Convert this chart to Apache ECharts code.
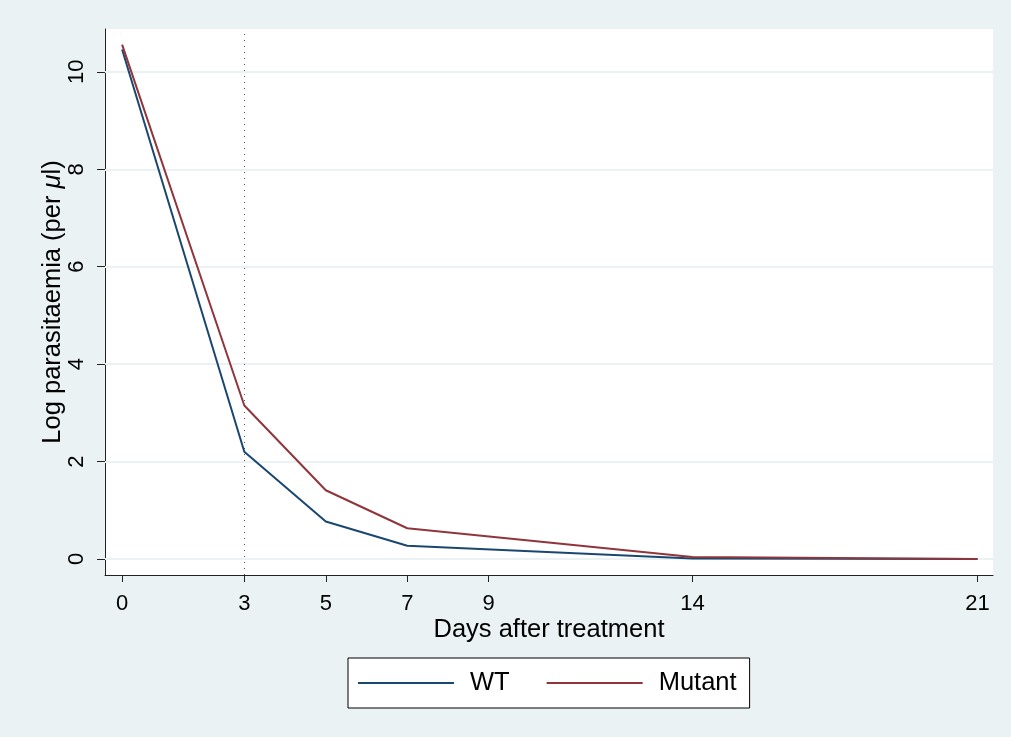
<!DOCTYPE html>
<html>
<head>
<meta charset="utf-8">
<script src="https://cdn.jsdelivr.net/npm/echarts@6/dist/echarts.min.js"></script>
<style>
  html, body { margin: 0; padding: 0; background: #EAF2F3; }
  #chart { width: 1011px; height: 737px; }
</style>
</head>
<body>
<div id="chart"></div>
<script>
// Days after treatment at which parasitaemia was measured
const days = [0, 3, 5, 7, 14, 21];
// Mean log parasitaemia per µl
const wtValues = [10.46, 2.20, 0.77, 0.27, 0.01, 0.0];
const mutantValues = [10.56, 3.15, 1.41, 0.63, 0.04, 0.0];
// Axis tick positions
const xTicks = [0, 3, 5, 7, 9, 14, 21];
const yTicks = [0, 2, 4, 6, 8, 10];
// Reference day marked with a dotted line
const markerDay = 3;

const font = 'Liberation Sans, Arial, Helvetica, sans-serif';
const axisColor = '#222';
const gridColor = '#EAF2F3';

const pairs = vals => days.map((d, i) => [d, vals[i]]);

const chart = echarts.init(document.getElementById('chart'), null, { renderer: 'canvas' });
chart.setOption({
  backgroundColor: '#EAF2F3',
  animation: false,
  grid: {
    left: 105, top: 29, right: 18, bottom: 162,
    show: true, backgroundColor: '#ffffff', borderWidth: 0
  },
  legend: {
    left: 348, top: 658,
    padding: [10, 13, 10, 10],
    backgroundColor: '#ffffff',
    borderColor: '#000000', borderWidth: 1,
    itemWidth: 96, itemHeight: 2, itemGap: 37,
    icon: 'rect',
    textStyle: { fontFamily: font, fontSize: 25.5, lineHeight: 30, color: '#000', padding: [0, 0, 0, 11] },
    data: ['WT', 'Mutant']
  },
  xAxis: {
    type: 'value',
    min: -0.42, max: 21.38,
    name: 'Days after treatment',
    nameLocation: 'middle', nameGap: 42, nameMoveOverlap: false,
    nameTextStyle: { fontFamily: font, fontSize: 25.5, color: '#000' },
    axisLine: { show: true, onZero: false, lineStyle: { color: axisColor, width: 1 } },
    axisTick: { show: true, customValues: xTicks, length: 7, lineStyle: { color: axisColor } },
    axisLabel: { customValues: xTicks, fontFamily: font, fontSize: 22, color: '#000', margin: 18 },
    splitLine: { show: false }
  },
  yAxis: {
    type: 'value',
    min: -0.33, max: 10.88,
    name: '{a|Log parasitaemia (per }{i|μ}{a|l)}',
    nameLocation: 'middle', nameGap: 39, nameMoveOverlap: false,
    nameTextStyle: {
      rich: {
        a: { fontFamily: font, fontSize: 25.5, color: '#000' },
        i: { fontFamily: font, fontSize: 25.5, color: '#000', fontStyle: 'italic' }
      }
    },
    axisLine: { show: true, onZero: false, lineStyle: { color: axisColor, width: 1 } },
    axisTick: { show: true, customValues: yTicks, length: 8, lineStyle: { color: axisColor } },
    axisLabel: { customValues: yTicks, rotate: 90, fontFamily: font, fontSize: 22, color: '#000', margin: 17 },
    splitLine: { show: false }
  },
  series: [
    {
      // horizontal gridlines and the dotted day marker, drawn beneath the data lines
      name: 'guides', type: 'line', data: [], z: 1,
      markLine: {
        silent: true, symbol: 'none', label: { show: false }, z: 1,
        data: yTicks.map(v => ({ yAxis: v, lineStyle: { color: gridColor, width: 2, type: 'solid' } }))
          .concat([{ xAxis: markerDay, lineStyle: { color: '#555', width: 1, type: [1, 5] } }])
      }
    },
    {
      name: 'WT', type: 'line', data: pairs(wtValues),
      symbol: 'none', color: '#1A476F',
      lineStyle: { width: 2, color: '#1A476F' },
      z: 3
    },
    {
      name: 'Mutant', type: 'line', data: pairs(mutantValues),
      symbol: 'none', color: '#90353B',
      lineStyle: { width: 2, color: '#90353B' },
      z: 4
    }
  ]
});
</script>
</body>
</html>
